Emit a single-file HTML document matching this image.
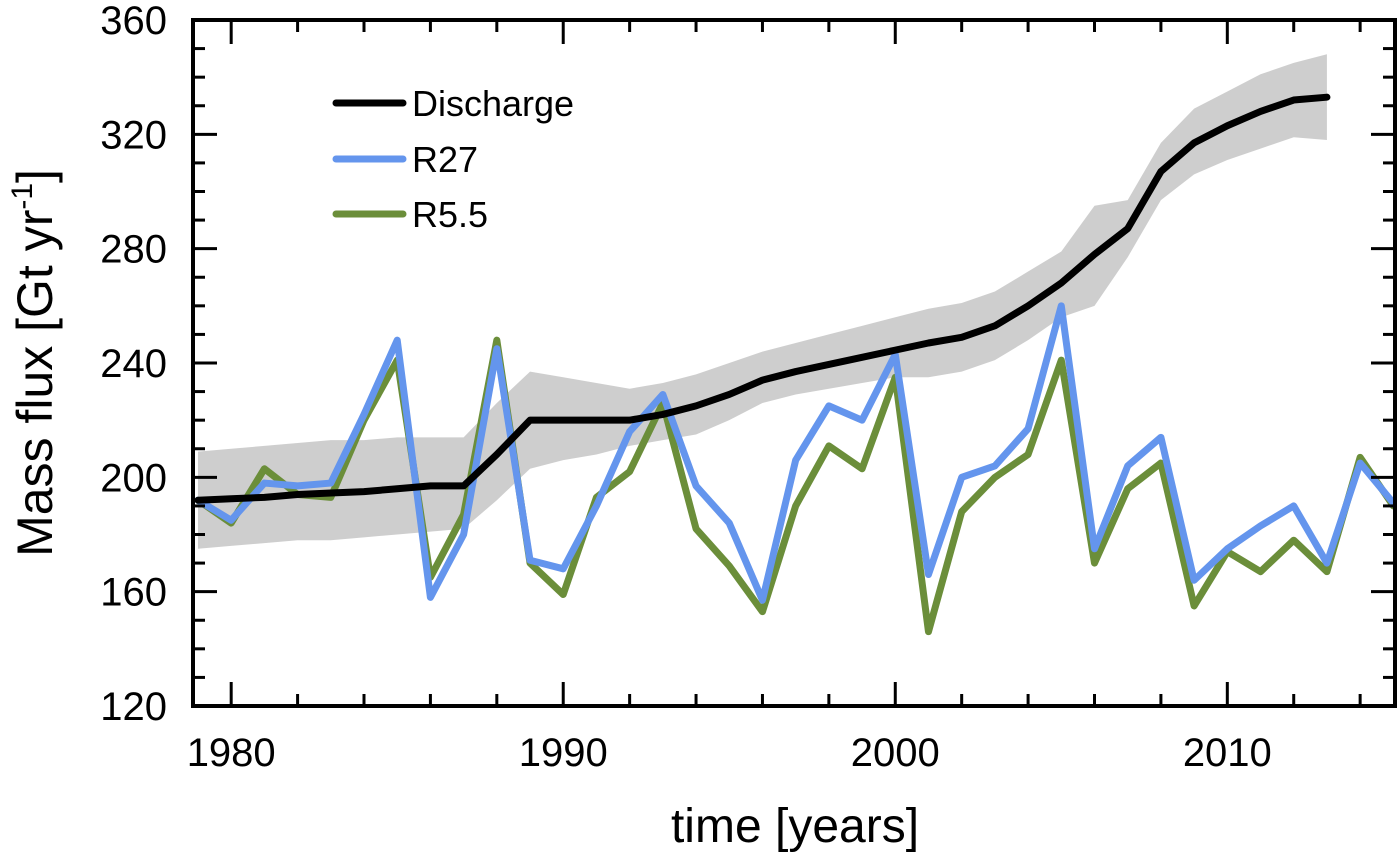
<!DOCTYPE html>
<html><head><meta charset="utf-8"><style>
html,body{margin:0;padding:0;background:#fff;}
svg{display:block;font-family:"Liberation Sans",Arial,sans-serif;}
</style></head><body>
<svg id="chart" width="1400" height="857">
<g id="band"></g>
<g id="series"></g>
<g id="axes"></g>
<text x="795" y="842" text-anchor="middle" font-size="48">time [years]</text>
<text transform="translate(52,363) rotate(-90)" text-anchor="middle" font-size="50">Mass flux [Gt yr<tspan dy="-20" font-size="30">-1</tspan><tspan dy="20">]</tspan></text>
<g>
<line x1="336" y1="103" x2="403" y2="103" stroke="#000" stroke-width="7" stroke-linecap="round"/>
<text x="412" y="116" font-size="36">Discharge</text>
<line x1="336" y1="159" x2="403" y2="159" stroke="#6495ED" stroke-width="7" stroke-linecap="round"/>
<text x="412" y="172" font-size="36">R27</text>
<line x1="336" y1="214" x2="403" y2="214" stroke="#6B8E3A" stroke-width="7" stroke-linecap="round"/>
<text x="412" y="227" font-size="36">R5.5</text>
</g>
</svg>
<script>
const years = [1979,1980,1981,1982,1983,1984,1985,1986,1987,1988,1989,1990,1991,1992,1993,1994,1995,1996,1997,1998,1999,2000,2001,2002,2003,2004,2005,2006,2007,2008,2009,2010,2011,2012,2013,2014,2015];
const r27 = [192,185,198,197,198,222,248,158,180,245,171,168,190,216,229,197,184,157,206,225,220,243,166,200,204,217,260,175,204,214,164,175,183,190,170,205,191];
const r55 = [192,184,203,194,193,220,241,165,187,248,170,159,193,202,226,182,169,153,190,211,203,235,146,188,200,208,241,170,196,205,155,174,167,178,167,207,190];
const dYears = [1979,1980,1981,1982,1983,1984,1985,1986,1987,1988,1989,1990,1991,1992,1993,1994,1995,1996,1997,1998,1999,2000,2001,2002,2003,2004,2005,2006,2007,2008,2009,2010,2011,2012,2013];
const discharge = [192,192.5,193,194,194.5,195,196,197,197,208,220,220,220,220,222,225,229,234,237,239.5,242,244.5,247,249,253,260,268,278,287,307,317,323,328,332,333];
const upper = [209,210,211,212,213,213,214,214,214,226,237,235,233,231,233,236,240,244,247,250,253,256,259,261,265,272,279,295,297,317,329,335,341,345,348];
const lower = [175,176,177,178,178,179,180,181,182,192,203,206,208,211,213,215,220,226,229,231,233,235,235,237,241,248,256,260,277,297,306,311,315,319,318];
const xTicks = [1980,1990,2000,2010];
const yTicks = [120,160,200,240,280,320,360];

const L=193,R=1395,T=20,B=706, X0=1978.85, X1=2015.05, Y0=120, Y1=360;
const sx=v=>L+(v-X0)/(X1-X0)*(R-L);
const sy=v=>B-(v-Y0)/(Y1-Y0)*(B-T);
const NS='http://www.w3.org/2000/svg';
function mk(tag,attrs,parent){const e=document.createElementNS(NS,tag);for(const k in attrs)e.setAttribute(k,attrs[k]);parent.appendChild(e);return e;}

let pts=dYears.map((y,i)=>sx(y)+','+sy(upper[i]));
for(let i=dYears.length-1;i>=0;i--)pts.push(sx(dYears[i])+','+sy(lower[i]));
const band=mk('polygon',{points:pts.join(' '),fill:'#b4b4b4','fill-opacity':'0.65'},document.getElementById('band'));



const sg=document.getElementById('series');
function line(xs,vs,color,name){
  const p=mk('polyline',{points:xs.map((y,i)=>sx(y)+','+sy(vs[i])).join(' '),fill:'none',stroke:color,'stroke-width':7,'stroke-linejoin':'round','stroke-linecap':'round'},sg);
  
  
}
line(years,r55,'#6B8E3A','r5-5-line');
line(years,r27,'#6495ED','r27-line');
line(dYears,discharge,'#000','discharge-line');

const ag=document.getElementById('axes');
const frame=mk('rect',{x:L,y:T,width:R-L,height:B-T,fill:'none',stroke:'#000','stroke-width':4},ag);


for(let y=1980;y<=2014;y+=2){
  const len=(y%10===0)?24:12;
  mk('line',{x1:sx(y),x2:sx(y),y1:B,y2:B-len,stroke:'#000','stroke-width':3},ag);
  mk('line',{x1:sx(y),x2:sx(y),y1:T,y2:T+len,stroke:'#000','stroke-width':3},ag);
}
for(let v=130;v<360;v+=10){
  const len=(v%40===0)?24:12;
  mk('line',{x1:L,x2:L+len,y1:sy(v),y2:sy(v),stroke:'#000','stroke-width':3},ag);
  mk('line',{x1:R,x2:R-len,y1:sy(v),y2:sy(v),stroke:'#000','stroke-width':3},ag);
}
xTicks.forEach(t=>{
  const e=mk('text',{x:sx(t),y:B+60,'text-anchor':'middle','font-size':40},ag);
  e.textContent=t;
  
  
});
yTicks.forEach(t=>{
  const e=mk('text',{x:L-26,y:sy(t)+14,'text-anchor':'end','font-size':40},ag);
  e.textContent=t;
  
  
});
</script>
</body></html>
